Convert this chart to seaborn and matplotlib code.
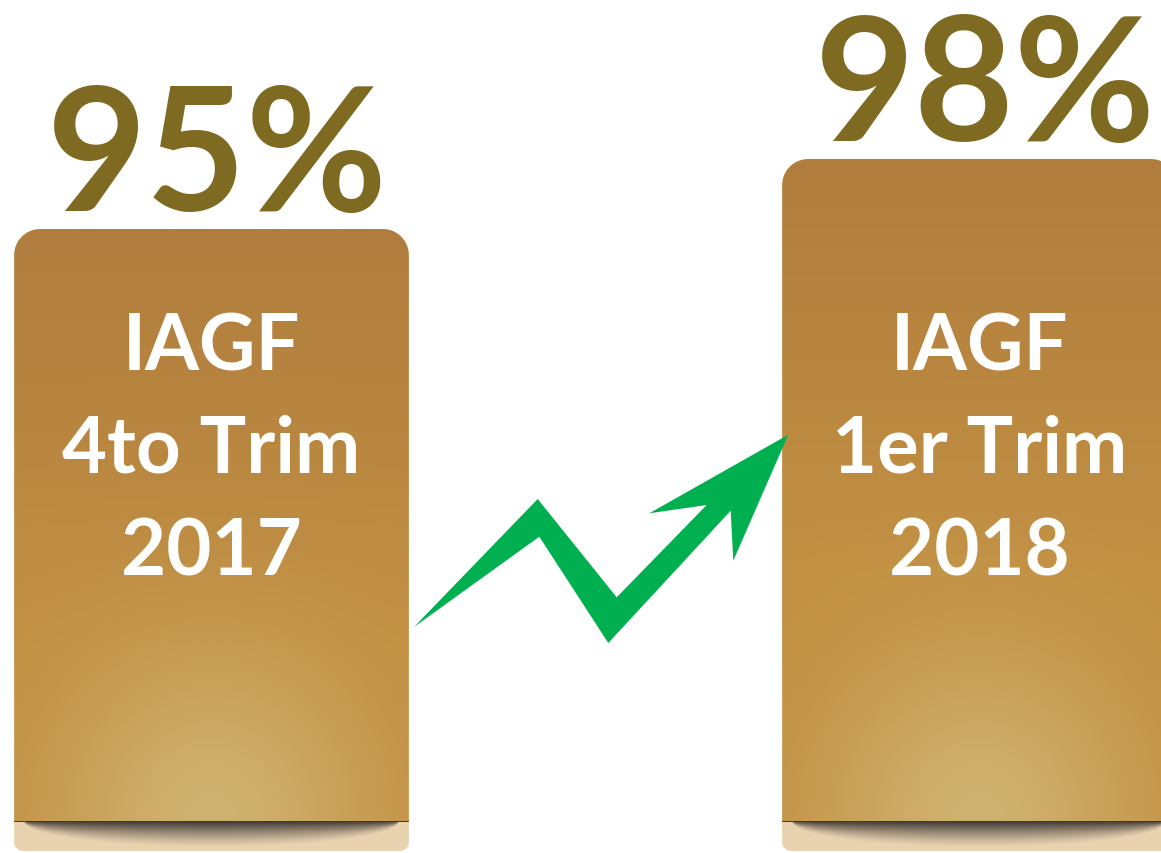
import numpy as np
import matplotlib
matplotlib.use("Agg")
import matplotlib.pyplot as plt
from matplotlib.path import Path
from matplotlib.patches import PathPatch, Polygon
import seaborn as sns

# datos del gráfico
periodos = ["IAGF\n4to Trim\n2017", "IAGF\n1er Trim\n2018"]
valores = [95, 98]
etiquetas = ["95%", "98%"]

W, H = 1161, 854
COLOR_NUM = "#7F6A21"
COLOR_FLECHA = "#00B050"

sns.set_theme(style="white")
plt.rcParams["font.family"] = ["Lato", "DejaVu Sans"]

fig = plt.figure(figsize=(W / 100, H / 100), dpi=100)
ax = fig.add_axes([0, 0, 1, 1])

sns.barplot(x=periodos, y=valores, ax=ax, width=0.514)

# escala: 3 puntos = 70 px
k = 70 / 3
y_top = 95 + 230 / k
y_bot = y_top - H / k
x_left = -211.5 / 768
x_right = x_left + W / 768
px_x = 1 / 768
px_y = 1 / k
base_bar = y_top - 822 / k   # fin del bloque marrón
base_fin = y_top - 852 / k   # fin de la franja beige


def forma_redondeada(x0, x1, y0, y1, r_top, r_bot, n=12):
    """Contorno con esquinas redondeadas (radios en px)."""
    pts = []
    for ang in np.linspace(np.pi, 1.5 * np.pi, n):
        pts.append((x0 + r_bot * px_x * (1 + np.cos(ang)), y0 + r_bot * px_y * (1 + np.sin(ang))))
    for ang in np.linspace(1.5 * np.pi, 2 * np.pi, n):
        pts.append((x1 - r_bot * px_x * (1 - np.cos(ang)), y0 + r_bot * px_y * (1 + np.sin(ang))))
    for ang in np.linspace(0, 0.5 * np.pi, n):
        pts.append((x1 - r_top * px_x * (1 - np.cos(ang)), y1 - r_top * px_y * (1 - np.sin(ang))))
    for ang in np.linspace(0.5 * np.pi, np.pi, n):
        pts.append((x0 + r_top * px_x * (1 + np.cos(ang)), y1 - r_top * px_y * (1 - np.sin(ang))))
    pts.append(pts[0])
    codes = [Path.MOVETO] + [Path.LINETO] * (len(pts) - 2) + [Path.CLOSEPOLY]
    return Path(pts, codes)


def imagen_barra(h_bar, h_strip, w):
    filas = np.arange(h_bar)[:, None].astype(float)
    xx = np.linspace(-1, 1, w)[None, :]
    arriba = np.array([176, 125, 62], float)
    medio = np.array([194, 144, 66], float)
    t = np.clip(filas / 420, 0, 1)[..., None]
    base = arriba + (medio - arriba) * t
    base = np.broadcast_to(base, (h_bar, w, 3)).copy()
    brillo = np.array([207, 178, 112], float)
    dy = (h_bar - filas)
    g = np.exp(-(xx / 0.8) ** 2 - (dy / 170) ** 2)
    marron = base + (brillo - base) * g[..., None]

    # franja beige con sombra bajo la barra
    beige = np.array([233, 210, 176], float)
    sombra = np.array([55, 50, 45], float)
    fs = np.arange(h_strip)[:, None].astype(float)
    prof = 26 * np.sqrt(np.clip(1 - (xx / 0.95) ** 2, 0, 1)) + 1e-6
    a = np.clip(1 - fs / prof, 0, 1) ** 1.3 * 0.95
    franja = beige + (sombra - beige) * a[..., None]
    img = np.vstack([marron, franja])
    return np.clip(img, 0, 255).astype(np.uint8)


barras = list(ax.patches)
for i, p in enumerate(barras):
    x0 = p.get_x()
    x1 = x0 + p.get_width()
    top = p.get_height()
    p.set_visible(False)
    w_px = int(round((x1 - x0) / px_x))
    h_bar = int(round((top - base_bar) / px_y))
    h_strip = int(round((base_bar - base_fin) / px_y))
    img = imagen_barra(h_bar, h_strip, w_px)
    clip = PathPatch(forma_redondeada(x0, x1, base_fin, top, 26, 9),
                     transform=ax.transData, facecolor="none", edgecolor="none")
    ax.add_patch(clip)
    im = ax.imshow(img, extent=(x0, x1, base_fin, top), aspect="auto",
                   origin="upper", zorder=2, interpolation="bilinear")
    im.set_clip_path(clip)

    ax.annotate(etiquetas[i], xy=(x0 + (x1 - x0) / 2, top), xytext=(4, 14),
                textcoords="offset points", ha="center", va="baseline",
                fontsize=124, fontweight="bold", color=COLOR_NUM, zorder=4)
    ax.text(x0 + (x1 - x0) / 2, 0.472, periodos[i], transform=ax.get_xaxis_transform(),
            ha="center", va="center", fontsize=56, fontweight="bold",
            color="white", linespacing=1.52, zorder=4)

# flecha decorativa (px de la figura)
flecha_px = [(414, 628), (537.7, 500), (616.7, 598.3), (706.7, 506), (649.3, 514.3),
             (788.3, 435.7), (733.3, 561.7), (730.7, 511.7), (608.3, 644), (539.3, 537.7)]
flecha = [(x / W, 1 - y / H) for x, y in flecha_px]
ax.add_patch(Polygon(flecha, closed=True, transform=ax.transAxes,
                     facecolor=COLOR_FLECHA, edgecolor="none", zorder=3))

ax.set_xlim(x_left, x_right)
ax.set_ylim(y_bot, y_top)
ax.axis("off")

plt.savefig("out.png", dpi=100)
